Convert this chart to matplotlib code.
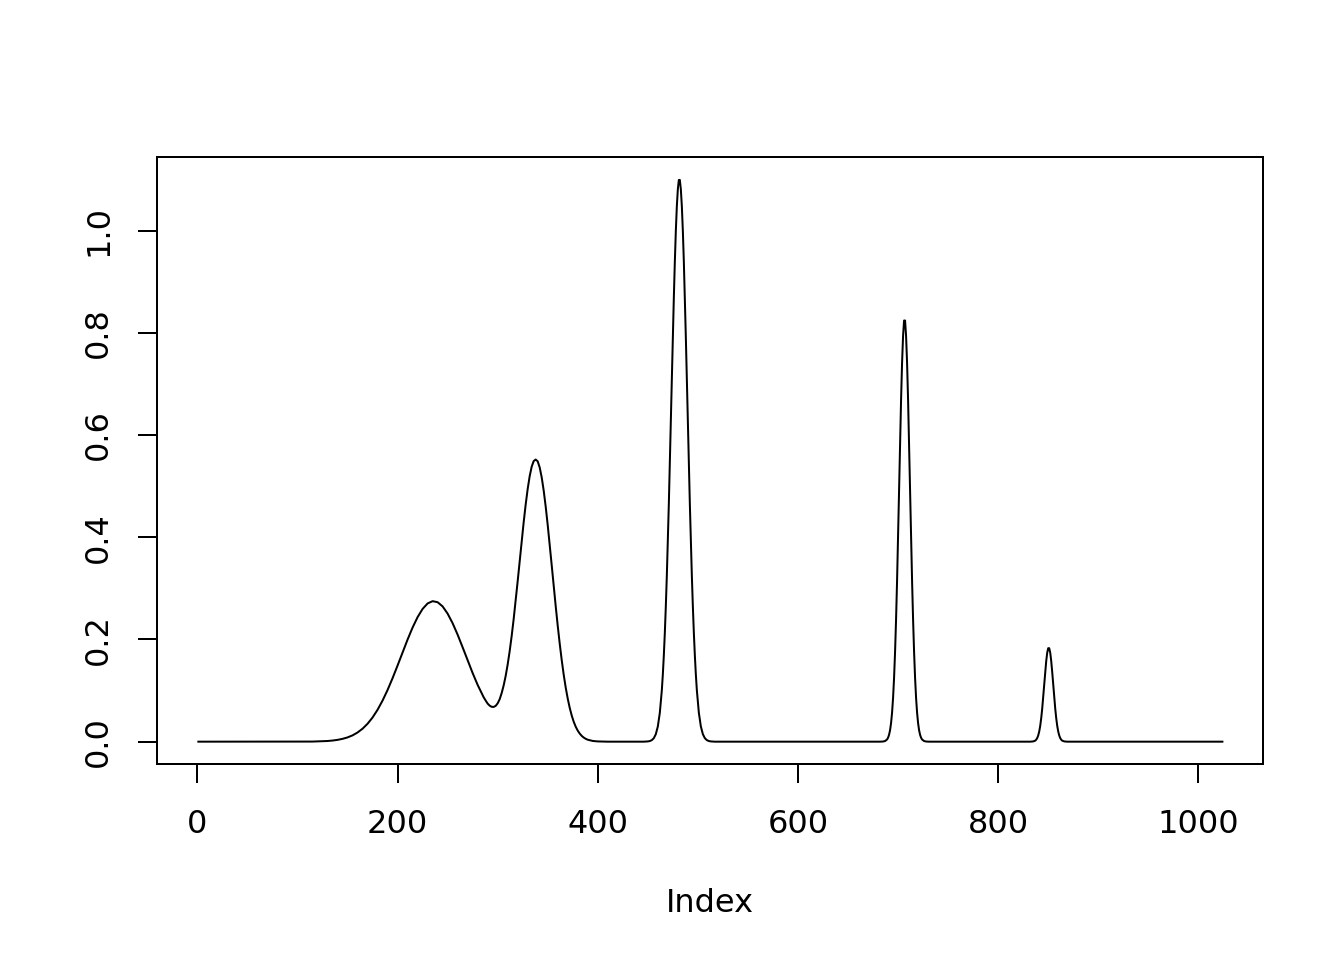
import numpy as np
from matplotlib import pyplot as plt

# values (index -> signal)
# the two broad overlapping bumps
broad_x = [1, 100, 115, 120, 125, 130, 135, 140, 145, 150, 155, 160, 165, 170, 175,
           180, 185, 190, 195, 200, 205, 210, 215, 220, 225, 230, 235, 240, 245,
           250, 255, 260, 265, 270, 275, 280, 284, 286, 288, 290, 292, 294, 296,
           298, 300, 302, 304, 306, 308, 310, 312, 314, 316, 318, 320, 322, 324,
           326, 328, 330, 332, 334, 336, 338, 340, 342, 344, 346, 348, 350, 352,
           354, 356, 358, 360, 362, 364, 366, 368, 370, 372, 374, 376, 378, 380,
           382, 384, 386, 388, 390, 395, 400, 410]
broad_y = [0.0, 0.0, 0.0002, 0.0005, 0.0008, 0.0013, 0.0022, 0.0035, 0.0055, 0.0083,
           0.0123, 0.0179, 0.0253, 0.0350, 0.0472, 0.0623, 0.0803, 0.1010, 0.1241,
           0.1489, 0.1745, 0.1997, 0.2232, 0.2436, 0.2597, 0.2704, 0.2749, 0.2729,
           0.2647, 0.2506, 0.2318, 0.2094, 0.1847, 0.1592, 0.1343, 0.1111, 0.0950,
           0.0870, 0.0805, 0.0745, 0.0705, 0.0682, 0.0680, 0.0700, 0.0750, 0.0830,
           0.0950, 0.1100, 0.1285, 0.1510, 0.1770, 0.2068, 0.2400, 0.2760, 0.3140,
           0.3530, 0.3918, 0.4294, 0.4640, 0.4945, 0.5195, 0.5380, 0.5490, 0.5520,
           0.5485, 0.5365, 0.5172, 0.4912, 0.4598, 0.4240, 0.3854, 0.3452, 0.3047,
           0.2650, 0.2270, 0.1918, 0.1596, 0.1308, 0.1057, 0.0843, 0.0661, 0.0511,
           0.0389, 0.0292, 0.0216, 0.0158, 0.0113, 0.0080, 0.0056, 0.0038, 0.0014,
           0.0005, 0.0]

# tall narrow peak
peak3_x = [446, 450, 452, 454, 456, 458, 460, 462, 464, 465, 466, 467, 468, 469,
           470, 471, 472, 473, 474, 475, 476, 477, 478, 479, 480, 481, 482, 483,
           484, 485, 486, 487, 488, 489, 490, 491, 492, 493, 494, 495, 496, 497,
           498, 499, 501, 503, 505, 507, 509, 511, 513, 517]
peak3_y = [0.0, 0.0005, 0.0012, 0.0030, 0.0068, 0.0147, 0.0297, 0.0564, 0.1005,
           0.1311, 0.1684, 0.2128, 0.2649, 0.3245, 0.3915, 0.4649, 0.5435, 0.6255,
           0.7089, 0.7907, 0.8685, 0.9390, 0.9996, 1.0476, 1.0808, 1.0990, 1.0990,
           1.0808, 1.0476, 0.9996, 0.9390, 0.8685, 0.7907, 0.7089, 0.6255, 0.5435,
           0.4649, 0.3915, 0.3245, 0.2649, 0.2128, 0.1684, 0.1311, 0.1005, 0.0564,
           0.0297, 0.0147, 0.0068, 0.0030, 0.0012, 0.0005, 0.0]

peak4_x = [682, 685, 687, 689, 690, 691, 692, 693, 694, 695, 696, 697, 698, 699,
           700, 701, 702, 703, 704, 705, 706, 707, 708, 709, 710, 711, 712, 713,
           714, 715, 716, 717, 718, 719, 720, 721, 722, 723, 724, 726, 728, 731]
peak4_y = [0.0, 0.0003, 0.0012, 0.0043, 0.0077, 0.0134, 0.0224, 0.0363, 0.0566,
           0.0854, 0.1246, 0.1756, 0.2390, 0.3145, 0.3998, 0.4911, 0.5830, 0.6687,
           0.7412, 0.7938, 0.8240, 0.8240, 0.7938, 0.7412, 0.6687, 0.5830, 0.4911,
           0.3998, 0.3145, 0.2390, 0.1756, 0.1246, 0.0854, 0.0566, 0.0363, 0.0224,
           0.0134, 0.0077, 0.0043, 0.0012, 0.0003, 0.0]

peak5_x = [832, 835, 837, 838, 839, 840, 841, 842, 843, 844, 845, 846, 847, 848,
           849, 850, 851, 852, 853, 854, 855, 856, 857, 858, 859, 860, 861, 862,
           863, 864, 866, 869, 1024]
peak5_y = [0.0, 0.0005, 0.0020, 0.0039, 0.0070, 0.0121, 0.0198, 0.0309, 0.0459,
           0.0648, 0.0872, 0.1116, 0.1360, 0.1577, 0.1741, 0.1829, 0.1829, 0.1741,
           0.1577, 0.1360, 0.1116, 0.0872, 0.0648, 0.0459, 0.0309, 0.0198, 0.0121,
           0.0070, 0.0039, 0.0020, 0.0005, 0.0, 0.0]

x_ticks = [0, 200, 400, 600, 800, 1000]
y_ticks = [0.0, 0.2, 0.4, 0.6, 0.8, 1.0]

index = np.concatenate([broad_x, peak3_x, peak4_x, peak5_x])
signal = np.concatenate([broad_y, peak3_y, peak4_y, peak5_y])

plt.rcParams['font.family'] = ['DejaVu Sans']
plt.rcParams['font.size'] = 12

fig = plt.figure(figsize=(7, 5), dpi=192)
ax = fig.add_axes([0.1171, 0.204, 0.8229, 0.6325])
ax.plot(index, signal, color='black', lw=0.75)

ax.set_xlim(1 - 0.04 * 1023, 1024 + 0.04 * 1023)
ax.set_ylim(-0.04 * 1.1, 1.1 * 1.04)

ax.set_xticks(x_ticks)
ax.set_xticklabels([str(t) for t in x_ticks])
ax.set_yticks(y_ticks)
ax.set_yticklabels(['{:.1f}'.format(t) for t in y_ticks], rotation=90, va='center')
ax.tick_params(direction='out', length=7.2, width=0.75, color='black', pad=9.5)
ax.tick_params(axis='y', pad=9)

for s in ax.spines.values():
    s.set_linewidth(0.75)
    s.set_color('black')

ax.set_xlabel('Index', labelpad=18)

fig.savefig('out.png', dpi=192)
